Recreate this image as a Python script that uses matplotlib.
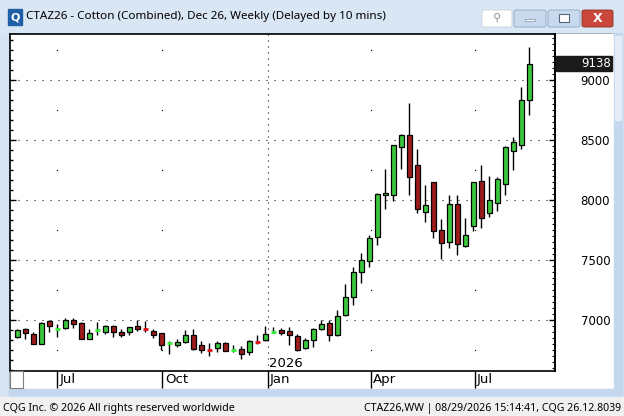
import numpy as np
import pandas as pd
import matplotlib
matplotlib.use('Agg')
import matplotlib.pyplot as plt
from matplotlib.patches import Rectangle, FancyBboxPatch
from matplotlib.ticker import MultipleLocator, NullFormatter
from matplotlib.transforms import blended_transform_factory

# weekly OHLC, Cotton Dec 26 (CTAZ26)
opens = [6864, 6925, 6886, 6800, 6991, 6920, 6939, 7000, 6975, 6847,
         6912, 6900, 6953, 6903, 6900, 6953, 6934, 6908, 6891, 6806,
         6797, 6816, 6878, 6791, 6760, 6772, 6814, 6748, 6758, 6739,
         6828, 6836, 6895, 6919, 6911, 6869, 6766, 6833, 6925, 6975,
         6880, 7041, 7197, 7400, 7491, 7697, 8041, 8047, 8447, 8541,
         8291, 7900, 8150, 7750, 7655, 7966, 7616, 7783, 8158, 7891,
         7975, 8133, 8408, 8458, 8833]
highs = [6930, 6936, 6900, 6986, 7003, 6969, 7016, 7016, 6986, 6930,
         6986, 6964, 6958, 6925, 6945, 7003, 6998, 6930, 6895, 6825,
         6847, 6919, 6925, 6825, 6808, 6825, 6819, 6797, 6786, 6836,
         6875, 6955, 6947, 6936, 6947, 6886, 6850, 6933, 7002, 7002,
         7086, 7302, 7441, 7564, 7711, 8058, 8261, 8462, 8550, 8814,
         8427, 8125, 8155, 7844, 8041, 8041, 7850, 8155, 8294, 8202,
         8197, 8450, 8525, 8941, 9275]
lows = [6855, 6847, 6800, 6800, 6900, 6864, 6930, 6939, 6841, 6841,
        6880, 6886, 6864, 6864, 6880, 6914, 6902, 6850, 6753, 6716,
        6775, 6812, 6753, 6730, 6705, 6739, 6744, 6736, 6680, 6711,
        6803, 6830, 6891, 6880, 6797, 6747, 6761, 6780, 6919, 6827,
        6872, 7038, 7130, 7308, 7447, 7630, 7930, 7997, 8264, 8044,
        7891, 7822, 7688, 7511, 7605, 7547, 7612, 7747, 7772, 7858,
        7914, 8041, 8255, 8425, 8708]
closes = [6919, 6891, 6805, 6975, 6955, 6924, 7000, 6969, 6841, 6891,
          6916, 6953, 6900, 6880, 6941, 6930, 6928, 6875, 6791, 6810,
          6819, 6878, 6764, 6753, 6755, 6814, 6747, 6752, 6722, 6825,
          6822, 6886, 6899, 6897, 6875, 6752, 6833, 6925, 6966, 6880,
          7036, 7191, 7400, 7500, 7683, 8053, 8061, 8458, 8541, 8191,
          7930, 7958, 7747, 7641, 7966, 7633, 7708, 8150, 7855, 8000,
          8175, 8441, 8483, 8833, 9138]

first_week = '2025-05-27'
month_dates = ['2025-07-01', '2025-10-01', '2026-01-01', '2026-04-01', '2026-07-01']
month_labels = ['Jul', 'Oct', 'Jan', 'Apr', 'Jul']
year_label = '2026'
price_ticks = [7000, 7500, 8000, 8500, 9000]
last_price = 9138

title = 'CTAZ26 - Cotton (Combined), Dec 26, Weekly (Delayed by 10 mins)'
status_left = 'CQG Inc. \u00a9 2026 All rights reserved worldwide'
status_right = 'CTAZ26,WW | 08/29/2026 15:14:41, CQG 26.12.8039'

plt.rcParams['lines.scale_dashes'] = False
plt.rcParams['font.family'] = ['DejaVu Sans']

W, H = 624, 416
fig = plt.figure(figsize=(W / 100, H / 100), dpi=100, facecolor='#d6e3f2')


def frect(x0, y0, x1, y1, **kw):
    # rectangle in pixel coords (origin top-left)
    r = Rectangle((x0 / W, 1 - y1 / H), (x1 - x0) / W, (y1 - y0) / H,
                  transform=fig.transFigure, **kw)
    fig.add_artist(r)
    return r


def fbox(x0, y0, x1, y1, **kw):
    r = FancyBboxPatch((x0 / W, 1 - y1 / H), (x1 - x0) / W, (y1 - y0) / H,
                       boxstyle='round,pad=0,rounding_size=0.004',
                       transform=fig.transFigure, **kw)
    fig.add_artist(r)
    return r


def ftext(x, y, s, **kw):
    fig.text(x / W, 1 - y / H, s, **kw)


# window chrome
frect(0, 0, W, 33, color='#d9e6f4', zorder=0)
frect(9, 33, 614, 389, facecolor='white', edgecolor='#9aa8b8', lw=0.6, zorder=0)
frect(9, 389, 614, 396, color='#c3d7ee', zorder=0)
frect(614, 33, 622, 396, color='#c3d7ee', zorder=0)
frect(615, 36, 621, 120, color='#e3edf8', zorder=0)
frect(0, 397, W, H, color='#f0f0f0', zorder=0)
frect(8, 9, 22, 25, color='#1f5fa6', zorder=1)
ftext(15, 17.5, 'Q', color='white', fontsize=8, fontweight='bold', ha='center', va='center')
ftext(26, 17, title, fontsize=8.4, family='Noto Sans', va='center')
fbox(482, 10, 512, 27, facecolor='white', edgecolor='#c8d2de', lw=0.6)
ftext(497, 18, '\u26b2', color='#909090', fontsize=8, ha='center', va='center')
fbox(514, 10, 546, 27, facecolor='#c9daee', edgecolor='#8ea6c2', lw=0.6)
frect(525, 19, 535, 21, facecolor='white', edgecolor='#7a8ea8', lw=0.5)
fbox(548, 10, 580, 27, facecolor='#c9daee', edgecolor='#8ea6c2', lw=0.6)
frect(559, 14, 569, 22, facecolor='white', edgecolor='#55657a', lw=0.8)
fbox(582, 10, 613, 27, facecolor='#c9483b', edgecolor='#8e3027', lw=0.6)
ftext(597.5, 18, 'X', color='white', fontsize=9, fontweight='bold', ha='center', va='center')
ftext(3, 408, status_left, fontsize=7.7, family='Noto Sans', va='center')
ftext(621, 408, status_right, fontsize=7.6, family='Noto Sans', va='center', ha='right')
frect(10, 371, 23, 388, facecolor='white', edgecolor='#7f7f7f', lw=0.8, zorder=2)

# price pane
ax = fig.add_axes([9.5 / W, 1 - 371 / H, (555 - 9.5) / W, (371 - 33.5) / H])
ax.set_facecolor('white')
for s in ax.spines.values():
    s.set_linewidth(1.2)
    s.set_color('black')

x = np.arange(len(opens))
o = np.array(opens, float)
c = np.array(closes, float)
up = c >= o
doji = np.abs(c - o) <= 10
ax.set_xlim(-0.975, 67.2)
ax.set_ylim(6577.5, 9390)

# dotted grid
for p in price_ticks:
    ax.axhline(p, color='black', lw=0.8, ls=(0, (0.72, 5.04)), zorder=1)
t0 = pd.Timestamp(first_week)
tick_x = np.array([(pd.Timestamp(d) - t0).days / 7 for d in month_dates])
half_levels = np.arange(6750, 9400, 500)
for tx, lab in zip(tick_x, month_labels):
    if lab == 'Jan':
        ax.axvline(tx, color='black', lw=0.8, ls=(0, (0.72, 3.6)), zorder=1)
    else:
        ax.plot(np.full(len(half_levels), tx), half_levels, 's', ms=0.8,
                color='black', mew=0, zorder=1)

# candles
ax.vlines(x, lows, highs, color='black', lw=1, zorder=2)
body = ~doji
ax.bar(x[body], np.abs(c - o)[body], bottom=np.minimum(o, c)[body], width=0.6,
       color=np.where(up, '#3cc83c', '#a01c1c')[body], edgecolor='black',
       lw=0.9, zorder=3)
ax.hlines(c[doji], x[doji] - 0.32, x[doji] + 0.32,
          colors=np.where(up, '#33ee33', '#e01010')[doji], lw=2, zorder=3)

# date axis
ax.set_xticks(tick_x)
ax.tick_params(axis='x', direction='out', length=12.4, width=1, labelbottom=False)
for tx, lab in zip(tick_x, month_labels):
    ax.text(tx + 0.3, -0.0245, lab, transform=blended_transform_factory(ax.transData, ax.transAxes),
            fontsize=9.5, va='center', ha='left', clip_on=False)
jan_x = tick_x[month_labels.index('Jan')]
ax.text(jan_x + 0.15, 6585, year_label, fontsize=9.5, va='bottom', ha='left')

# left ticks
ax.set_yticks(price_ticks)
ax.yaxis.set_minor_locator(MultipleLocator(500 / 6))
ax.yaxis.set_major_formatter(NullFormatter())
ax.tick_params(axis='y', which='major', direction='in', length=4, width=1)
ax.tick_params(axis='y', which='minor', direction='in', length=2.5, width=1)

# right price scale
sec = ax.secondary_yaxis('right')
sec.set_yticks(price_ticks)
sec.yaxis.set_minor_locator(MultipleLocator(50))
sec.tick_params(which='major', direction='in', length=4, width=1, pad=18.5, labelsize=8.5)
sec.tick_params(which='minor', direction='in', length=2.2, width=0.8)
sec.spines['right'].set_linewidth(1.2)

bt = blended_transform_factory(fig.transFigure, ax.transData)
ax.add_patch(Rectangle((556 / W, last_price - 62), 56 / W, 124, transform=bt,
                       color='#1a1a1a', clip_on=False, zorder=5))
ax.text(611 / W, last_price, str(last_price), transform=bt, color='white',
        fontsize=8.5, ha='right', va='center', zorder=6, clip_on=False)

fig.savefig('out.png', dpi=100, facecolor=fig.get_facecolor())
